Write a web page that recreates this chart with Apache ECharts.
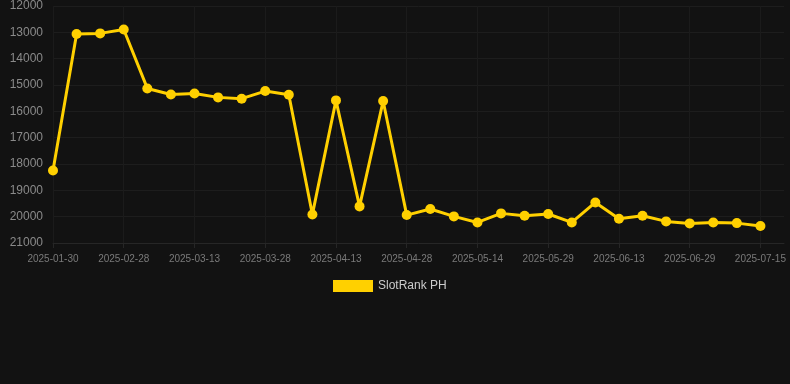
<!DOCTYPE html>
<html><head><meta charset="utf-8">
<script src="https://cdn.jsdelivr.net/npm/echarts@6/dist/echarts.min.js"></script>
<style>html,body{margin:0;padding:0;background:#121212}#c{width:790px;height:384px}</style>
</head><body><div id="c"></div>
<script>
const dates = ['2025-01-30','2025-02-08','2025-02-18','2025-02-28','2025-03-04','2025-03-08','2025-03-13','2025-03-18','2025-03-23','2025-03-28','2025-04-02','2025-04-08','2025-04-13','2025-04-18','2025-04-23','2025-04-28','2025-05-03','2025-05-09','2025-05-14','2025-05-19','2025-05-24','2025-05-29','2025-06-03','2025-06-08','2025-06-13','2025-06-18','2025-06-24','2025-06-29','2025-07-04','2025-07-10','2025-07-15'];
const rankPH = [18250,13060,13040,12890,15130,15360,15320,15470,15520,15230,15370,19915,15585,19610,15610,19940,19710,19990,20220,19875,19965,19900,20220,19460,20080,19965,20180,20255,20220,20245,20355];
const seriesName = 'SlotRank PH';
const yMin = 12000, yMax = 21000, yStep = 1000;

const chart = echarts.init(document.getElementById('c'), null, {renderer:'canvas'});
chart.setOption({
  backgroundColor:'#121212',
  animation:false,
  grid:{left:53, right:6, top:6, bottom:141},
  legend:{
    top:275, left:328, icon:'rect', itemWidth:40, itemHeight:12, itemGap:10,
    textStyle:{color:'#cccccc', fontSize:12, fontFamily:'Liberation Sans, Arial, sans-serif'},
    data:[seriesName]
  },
  xAxis:{
    type:'category', boundaryGap:false, data:dates.concat(['']),
    axisLine:{show:true, lineStyle:{color:'#262626'}},
    axisTick:{show:true, interval:2, length:5, lineStyle:{color:'#262626'}},
    axisLabel:{interval:2, color:'#7a7a7a', fontSize:10, margin:11, fontFamily:'Liberation Sans, Arial, sans-serif'},
    splitLine:{show:true, interval:2, lineStyle:{color:'#1b1b1b'}}
  },
  yAxis:{
    type:'value', inverse:true, min:yMin, max:yMax, interval:yStep,
    axisLine:{show:false}, axisTick:{show:false},
    axisLabel:{color:'#8a8a8a', fontSize:12, margin:10, fontFamily:'Liberation Sans, Arial, sans-serif',
      formatter:function(v){return String(v);}},
    splitLine:{lineStyle:{color:'#1d1d1d'}}
  },
  series:[{
    name:seriesName, type:'line', data:rankPH,
    symbol:'circle', symbolSize:10, showAllSymbol:true,
    lineStyle:{color:'#FFD000', width:3},
    itemStyle:{color:'#FFD000'}
  }]
});
</script></body></html>
